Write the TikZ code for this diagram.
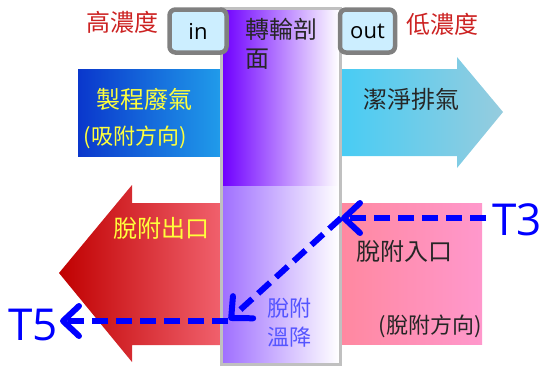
\documentclass[tikz,border=0pt]{standalone}
\usepackage{fontspec}
\setmainfont{Noto Sans CJK TC}
\newfontfamily\latinf{Open Sans}
\usetikzlibrary{arrows.meta}
\definecolor{hired}{RGB}{204,34,34}
\definecolor{txtyellow}{RGB}{255,255,60}
\definecolor{boxfill}{RGB}{204,238,255}
\definecolor{boxedge}{RGB}{128,128,128}
\definecolor{colgray}{RGB}{192,192,192}
\definecolor{purpA}{RGB}{112,0,255}
\definecolor{purpAm}{RGB}{215,190,255}
\definecolor{purpB}{RGB}{160,112,255}
\definecolor{purpBm}{RGB}{225,210,255}
\definecolor{blueL}{RGB}{10,55,204}
\definecolor{blueR}{RGB}{32,155,234}
\definecolor{cyanL}{RGB}{72,204,244}
\definecolor{cyanR}{RGB}{150,204,222}
\definecolor{redL}{RGB}{192,0,0}
\definecolor{redR}{RGB}{240,96,108}
\definecolor{pinkL}{RGB}{255,136,160}
\definecolor{pinkR}{RGB}{255,152,204}
\definecolor{coolblue}{RGB}{85,85,255}
\definecolor{dashblue}{RGB}{0,0,255}
\tikzset{
  cjk/.style={inner sep=0pt, font=\fontsize{24}{29}\selectfont},
  cjks/.style={inner sep=0pt, font=\fontsize{22}{27}\selectfont},
  iobox/.style={draw=boxedge, line width=4.5pt, fill=boxfill, rounded corners=6pt,
    minimum height=43pt, inner sep=0pt, font=\latinf\fontsize{22}{26}\selectfont},
  tlabel/.style={inner sep=0pt, text=dashblue, font=\latinf\fontsize{44}{50}\selectfont},
  flow/.style={draw=dashblue, line width=6pt, dash pattern=on 16pt off 8pt,
    -{Straight Barb[length=16pt,width=30pt,round]}}
}
\begin{document}
\begin{tikzpicture}[x=1pt,y=-1pt]
\useasboundingbox (0,0) rectangle (544,368);
% big arrows and blocks
\shade[left color=blueL, right color=blueR] (78,69) rectangle (220,156);
\shade[left color=cyanL, right color=cyanR]
  (341,69) -- (457,69) -- (457,57) -- (503,112) -- (457,168) -- (457,156) -- (341,156) -- cycle;
\shade[left color=redL, right color=redR]
  (220,203) -- (132,203) -- (132,185) -- (59,273) -- (132,362) -- (132,345) -- (220,345) -- cycle;
\shade[left color=pinkL, right color=pinkR] (341,203) rectangle (482,344);
% rotor column
\shade[left color=purpA, middle color=purpAm, right color=white] (223,10) rectangle (339,186);
\shade[left color=purpB, middle color=purpBm, right color=white] (223,186) rectangle (339,363);
\draw[colgray, line width=3pt] (221.5,8.5) rectangle (340,364.5);
% in / out boxes
\node[iobox, minimum width=57pt] (in) at (198,31) {in};
\node[iobox, minimum width=55pt] (out) at (367.5,31) {out};
% texts
\node[cjk, text=hired] (hi) at (122,22) {高濃度};
\node[cjk, text=hired] (lo) at (442,24) {低濃度};
\node[cjk, text=txtyellow] (proc) at (144,99) {製程廢氣};
\node[cjks, text=txtyellow] (adsdir) at (135,137) {(吸附方向)};
\node[cjk, text=black!85] (clean) at (411,99) {潔淨排氣};
\node[cjk, text=black!85, anchor=west] (rot1) at (245,29) {轉輪剖};
\node[cjk, text=black!85, anchor=west] (rot2) at (245,59) {面};
\node[cjk, text=txtyellow] (desout) at (161,228) {脫附出口};
\node[cjk, text=black!85] (desin) at (404,251) {脫附入口};
\node[cjks, text=black!85] (desdir) at (430,326) {(脫附方向)};
\node[cjks, text=coolblue] (cool1) at (289,308) {脫附};
\node[cjks, text=coolblue] (cool2) at (289,337) {溫降};
\node[tlabel] (T3) at (517,220) {T3};
\node[tlabel] (T5) at (33,325) {T5};
% flow path
\coordinate (T3s) at (486,218);
\coordinate (pA) at (341,218);
\coordinate (pB) at (229,320);
\coordinate (pB2) at (228,321);
\coordinate (pC) at (60,321);
\draw[flow] (T3s) -- (pA);
\draw[flow] (pA) -- (pB);
\draw[flow] (pB2) -- (pC);
\end{tikzpicture}
\end{document}
